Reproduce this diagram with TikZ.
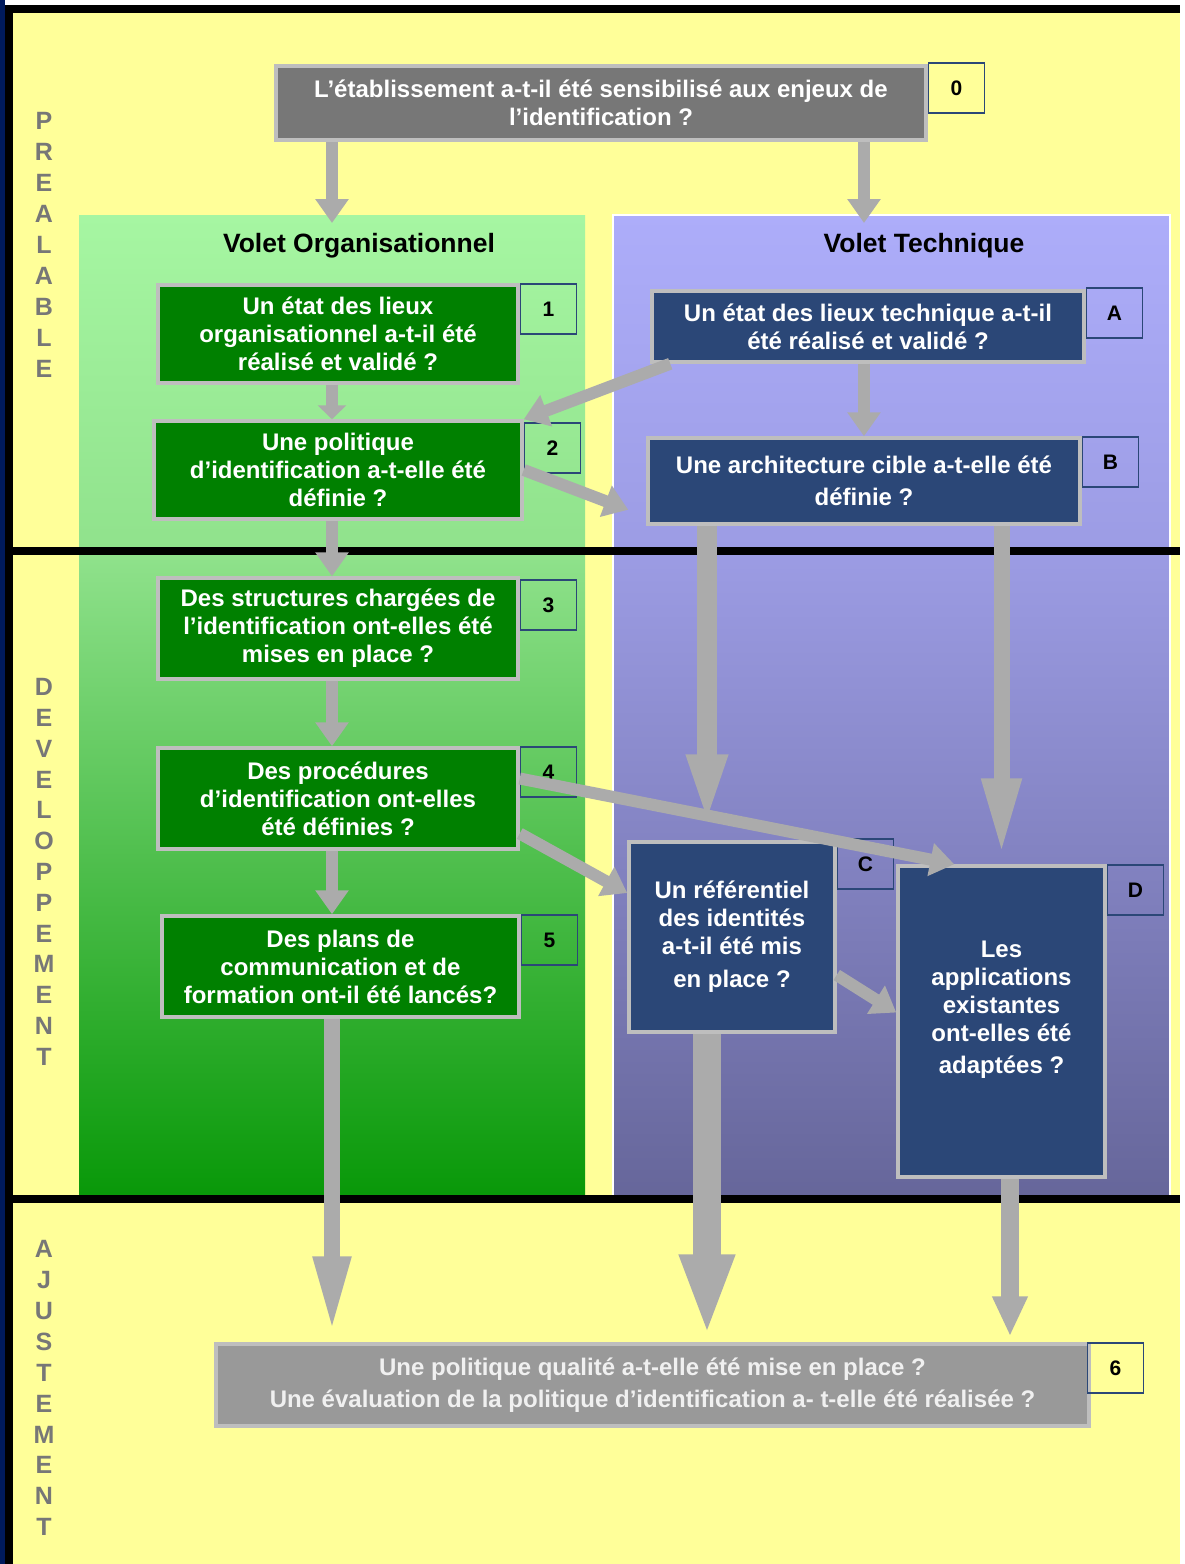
\documentclass[tikz,border=0pt]{standalone}
\usepackage{fontspec}
\setmainfont{Liberation Sans}
\usetikzlibrary{calc,positioning,arrows.meta,backgrounds}
\definecolor{pageyellow}{HTML}{FFFF99}
\definecolor{framenavy}{HTML}{001A5C}
\definecolor{boxgreen}{HTML}{008000}
\definecolor{boxnavy}{HTML}{2B4777}
\definecolor{boxedge}{HTML}{BEBEBE}
\definecolor{topgray}{HTML}{777777}
\definecolor{endgray}{HTML}{999999}
\definecolor{arrowgray}{HTML}{ABABAB}
\definecolor{lettergray}{HTML}{777777}
\definecolor{orgtop}{HTML}{A6F6A2}
\definecolor{orgmid}{HTML}{90E28C}
\definecolor{orgbot}{HTML}{089808}
\definecolor{techtop}{HTML}{ADADFA}
\definecolor{techmid}{HTML}{9C9CE4}
\definecolor{techbot}{HTML}{66669A}
\tikzset{
  qbox/.style={
    draw=boxedge,
    line width=3.5pt,
    text=white,
    font=\fontsize{24}{28}\selectfont\bfseries,
    align=center,
    inner sep=0pt
  },
  orgbox/.style={qbox, fill=boxgreen},
  techbox/.style={qbox, fill=boxnavy},
  numbox/.style={draw=boxnavy, line width=1.5pt, minimum width=56pt, minimum height=50pt,
    inner sep=0pt, anchor=north west, font=\fontsize{21}{24}\selectfont\bfseries},
  sidelbl/.style={text=lettergray, font=\fontsize{25}{25}\selectfont\bfseries, inner sep=0pt},
  paneltitle/.style={font=\fontsize{26.5}{30}\selectfont\bfseries, inner sep=0pt},
  flow/.style={draw=arrowgray, line width=12pt, -{Triangle[length=24pt,width=32pt]}},
  bigflow/.style={draw=arrowgray, line width=#1, -{Triangle[length=78pt,width=36pt]}},
}
\begin{document}
\begin{tikzpicture}[x=1pt, y=-1pt]
  \useasboundingbox (0,0) rectangle (1185,1564);
  % frame and page
  \fill[white] (0,0) rectangle (1185,1564);
  \fill[framenavy] (0,0) rectangle (5,1564);
  \fill[black] (5,5) rectangle (1180,13);
  \fill[black] (5,5) rectangle (13,1564);
  \fill[pageyellow] (13,13) rectangle (1180,1564);
  % the two panels
  \shade[top color=orgtop, bottom color=orgmid] (79,215) rectangle (585,551);
  \shade[top color=orgmid, bottom color=orgbot] (79,551) rectangle (585,1199);
  \shade[top color=techtop, bottom color=techmid] (613,215) rectangle (1170,551);
  \shade[top color=techmid, bottom color=techbot] (613,551) rectangle (1170,1199);
  \draw[white, line width=1.5pt] (613,1199) -- (613,215) -- (1170,215) -- (1170,1199);
  % phase separators
  \fill[black] (13,547) rectangle (1180,555);
  \fill[black] (13,1195) rectangle (1180,1203);
  % phase letters
  \foreach \ch [count=\i] in {P,R,E,A,L,A,B,L,E}
    \node[sidelbl] (pre\i) at (44,{121+(\i-1)*31}) {\ch};
  \foreach \ch [count=\i] in {D,E,V,E,L,O,P,P,E,M,E,N,T}
    \node[sidelbl] (dev\i) at (44,{687+(\i-1)*30.8}) {\ch};
  \foreach \ch [count=\i] in {A,J,U,S,T,E,M,E,N,T}
    \node[sidelbl] (adj\i) at (44,{1249+(\i-1)*30.9}) {\ch};
  \node[paneltitle] (tO) at (359,246) {Volet Organisationnel};
  \node[paneltitle] (tT) at (924,246) {Volet Technique};
  \coordinate (orgin) at (332,223);
  \coordinate (techin) at (864,223);
  \coordinate (colC) at (707,0);
  \coordinate (colD) at (1010,0);
  % question boxes
  \node[qbox, fill=topgray, minimum width=650pt, minimum height=74pt] (b0) at (601,103)
    {L’établissement a-t-il été sensibilisé aux enjeux de\\l’identification ?};
  \node[numbox] (n0) at ([yshift=2pt]b0.north east) {0};
  \node[orgbox, minimum width=360pt, minimum height=98pt] (b1) at (338,334)
    {Un état des lieux\\organisationnel a-t-il été\\réalisé et validé ?};
  \node[numbox] (n1) at (b1.north east) {1};
  \node[orgbox, minimum width=368pt, minimum height=98pt] (b2) at (338,470)
    {Une politique\\d’identification a-t-elle été\\définie ?};
  \node[numbox] (n2) at ([yshift=-3pt]b2.north east) {2};
  \node[techbox, minimum width=432pt, minimum height=71pt] (bA) at (868,326.5)
    {Un état des lieux technique a-t-il\\été réalisé et validé ?};
  \node[numbox] (nA) at ([yshift=2pt]bA.north east) {A};
  \node[techbox, minimum width=432pt, minimum height=86pt] (bB) at (864,481)
    {Une architecture cible a-t-elle été\\[4pt]définie ?};
  \node[numbox] (nB) at (bB.north east) {B};
  \node[orgbox, minimum width=360pt, minimum height=101pt] (b3) at (338,628.5)
    {Des structures chargées de\\l’identification ont-elles été\\mises en place ?};
  \node[numbox] (n3) at ([yshift=-3pt]b3.north east) {3};
  \node[orgbox, minimum width=360pt, minimum height=101pt] (b4) at (338,798.5)
    {Des procédures\\d’identification ont-elles\\été définies ?};
  \node[numbox] (n4) at (b4.north east) {4};
  \node[orgbox, minimum width=357pt, minimum height=101pt] (b5) at (340.5,966.5)
    {Des plans de\\communication et de\\formation ont-il été lancés?};
  \node[numbox] (n5) at (b5.north east) {5};
  \node[techbox, minimum width=206pt, minimum height=190pt] (bC) at (732,937)
    {Un référentiel\\des identités\\a-t-il été mis\\[5pt]en place ?};
  \node[numbox] (nC) at ([yshift=2pt]bC.north east) {C};
  \node[techbox, minimum width=207pt, minimum height=311pt] (bD) at (1001.5,1021.5)
    {Les\\applications\\existantes\\ont-elles été\\[4pt]adaptées ?\\~};
  \node[numbox] (nD) at (bD.north east) {D};
  \node[qbox, fill=endgray, text=white!94!black, minimum width=873pt, minimum height=82pt,
    font=\fontsize{24}{32}\selectfont\bfseries] (b6) at (652.5,1385)
    {Une politique qualité a-t-elle été mise en place ?\\Une évaluation de la politique d’identification a- t-elle été réalisée ?};
  \node[numbox] (n6) at ([xshift=-4pt]b6.north east) {6};
  % connectors
  \draw[flow] (b0.south -| orgin) -- (orgin);
  \draw[flow] (b0.south -| techin) -- (techin);
  \draw[flow, -{Triangle[length=14pt,width=28pt]}] (b1.south -| orgin) -- (b2.north -| orgin);
  \draw[flow] (bA.south -| techin) -- (bB.north -| techin);
  \draw[flow] ($(bA.south west)+(20,0)$) -- (b2.north east);
  \draw[flow] (b2.east) -- ($(bB.south west)+(-18,-16)$);
  \draw[flow] (b2.south -| orgin) -- (b3.north -| orgin);
  \draw[flow] (b3.south -| orgin) -- (b4.north -| orgin);
  \draw[flow] (b4.south -| orgin) -- (b5.north -| orgin);
  \draw[flow] ($(b4.east)+(0,-20)$) -- ($(bD.north west)+(58,0)$);
  \draw[flow] ($(b4.east)+(0,35)$) -- ($(bC.west)+(0,-44)$);
  \draw[flow] ($(bC.east)+(0,38)$) -- ($(bD.west)+(0,-9)$);
  \draw[bigflow=20pt, -{Triangle[length=74pt,width=36pt]}, shorten >=12pt] (bB.south -| colC) -- (bC.north -| colC);
  \draw[bigflow=16pt, shorten >=8pt] (bB.south -| bD) -- (bD.north);
  \draw[bigflow=16pt, -{Triangle[length=78pt,width=34pt]}, shorten >=8pt] (b5.south -| orgin) -- (b6.north -| orgin);
  \draw[bigflow=28pt, -{Triangle[length=82pt,width=50pt]}, shorten >=6pt] (bC.south -| colC) -- (b6.north -| colC);
  \draw[bigflow=18pt, -{Triangle[length=40pt,width=33pt]}, shorten >=6pt] (bD.south -| colD) -- (b6.north -| colD);
\end{tikzpicture}
\end{document}
